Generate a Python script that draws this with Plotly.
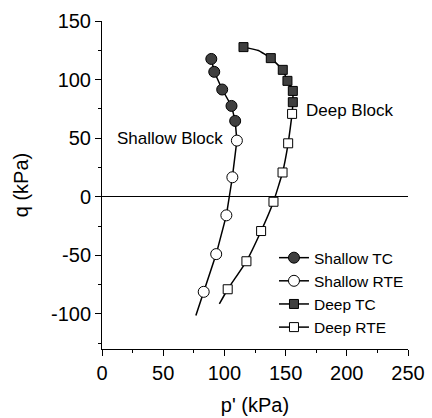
import plotly.graph_objects as go

# Shallow block stress path
shallow_tc_p = [89.3, 91.7, 98.2, 105.8, 108.8]
shallow_tc_q = [117.6, 106.6, 91.5, 77.5, 64.7]
shallow_rte_p = [110.2, 106.5, 101.6, 93.3, 83.1]
shallow_rte_q = [47.9, 16.6, -15.9, -49.0, -81.2]
shallow_end_p = [76.7]
shallow_end_q = [-101.5]

# Deep block stress path
deep_tc_p = [115.6, 137.9, 147.7, 151.5, 155.9, 155.9]
deep_tc_q = [127.7, 118.3, 108.3, 98.9, 90.3, 80.7]
deep_arc_p = [127.8]
deep_arc_q = [124.8]
deep_rte_p = [155.3, 152.1, 147.5, 140.1, 130.0, 118.0, 102.7]
deep_rte_q = [70.7, 45.6, 20.7, -4.3, -29.3, -55.1, -79.0]
deep_end_p = [95.9]
deep_end_q = [-91.5]

series_names = ["Shallow TC", "Shallow RTE", "Deep TC", "Deep RTE"]
x_ticks = [0, 50, 100, 150, 200, 250]
x_tick_labels = ["0", "50", "100", "150", "200", "250"]
y_ticks = [-100, -50, 0, 50, 100, 150]
y_tick_labels = ["-100", "-50", "0", "50", "100", "150"]

FONT = "Arial, Liberation Sans, sans-serif"
DARK = "#3f3f3f"

fig = go.Figure()

# continuous stress paths
fig.add_trace(go.Scatter(
    x=shallow_tc_p + shallow_rte_p + shallow_end_p,
    y=shallow_tc_q + shallow_rte_q + shallow_end_q,
    mode="lines", line=dict(color="black", width=1.5), showlegend=False, hoverinfo="skip"))
fig.add_trace(go.Scatter(
    x=deep_tc_p[:1] + deep_arc_p + deep_tc_p[1:] + deep_rte_p + deep_end_p,
    y=deep_tc_q[:1] + deep_arc_q + deep_tc_q[1:] + deep_rte_q + deep_end_q,
    mode="lines", line=dict(color="black", width=1.5, shape="spline", smoothing=0.3),
    showlegend=False, hoverinfo="skip"))

styles = [
    (shallow_tc_p, shallow_tc_q, "circle", DARK, 11),
    (shallow_rte_p, shallow_rte_q, "circle", "white", 11),
    (deep_tc_p, deep_tc_q, "square", DARK, 9),
    (deep_rte_p, deep_rte_q, "square", "white", 9),
]
for name, (xs, ys, sym, col, sz) in zip(series_names, styles):
    mk = dict(symbol=sym, size=sz, color=col, line=dict(color="black", width=1))
    fig.add_trace(go.Scatter(x=xs, y=ys, name=name, mode="markers", marker=mk,
                             showlegend=False, legendgroup=name))
    # legend entry with line + marker
    fig.add_trace(go.Scatter(x=[None], y=[None], name=name, mode="lines+markers",
                             line=dict(color="black", width=1.5), marker=mk, legendgroup=name))

fig.add_annotation(x=55.7, y=50, text="Shallow Block", showarrow=False,
                   font=dict(family=FONT, size=17, color="black"))
fig.add_annotation(x=202, y=74, text="Deep Block", showarrow=False,
                   font=dict(family=FONT, size=17, color="black"))

fig.update_xaxes(range=[0, 250], tickvals=x_ticks, ticktext=x_tick_labels, showgrid=False,
                 automargin=False,
                 showline=True, linecolor="black", linewidth=1, ticks="outside", ticklen=6,
                 tickcolor="black", minor=dict(dtick=25, ticks="outside", ticklen=3, tickcolor="black"),
                 zeroline=False, title=dict(text="p' (kPa)", font=dict(family=FONT, size=20), standoff=14),
                 tickfont=dict(family=FONT, size=20, color="black"))
fig.update_yaxes(range=[-130, 150], tickvals=y_ticks, ticktext=y_tick_labels, showgrid=False,
                 automargin=False,
                 showline=True, linecolor="black", linewidth=1, ticks="outside", ticklen=6,
                 tickcolor="black", minor=dict(dtick=25, ticks="outside", ticklen=3, tickcolor="black"),
                 zeroline=True, zerolinecolor="black", zerolinewidth=1,
                 title=dict(text="q (kPa)", font=dict(family=FONT, size=20), standoff=16),
                 tickfont=dict(family=FONT, size=20, color="black"))

fig.update_layout(
    width=432, height=418, plot_bgcolor="white", paper_bgcolor="white",
    margin=dict(l=102, r=24, t=21, b=69, autoexpand=False),
    font=dict(family=FONT, color="black"),
    showlegend=True,
    legend=dict(x=0.562, y=0.172, xanchor="left", yanchor="middle", bgcolor="rgba(0,0,0,0)",
                font=dict(family=FONT, size=15.5), tracegroupgap=0, itemwidth=30),
)

fig.write_html("out.html", config={"displayModeBar": False},
               post_script="document.body.style.margin='0';document.body.style.overflow='hidden';")
